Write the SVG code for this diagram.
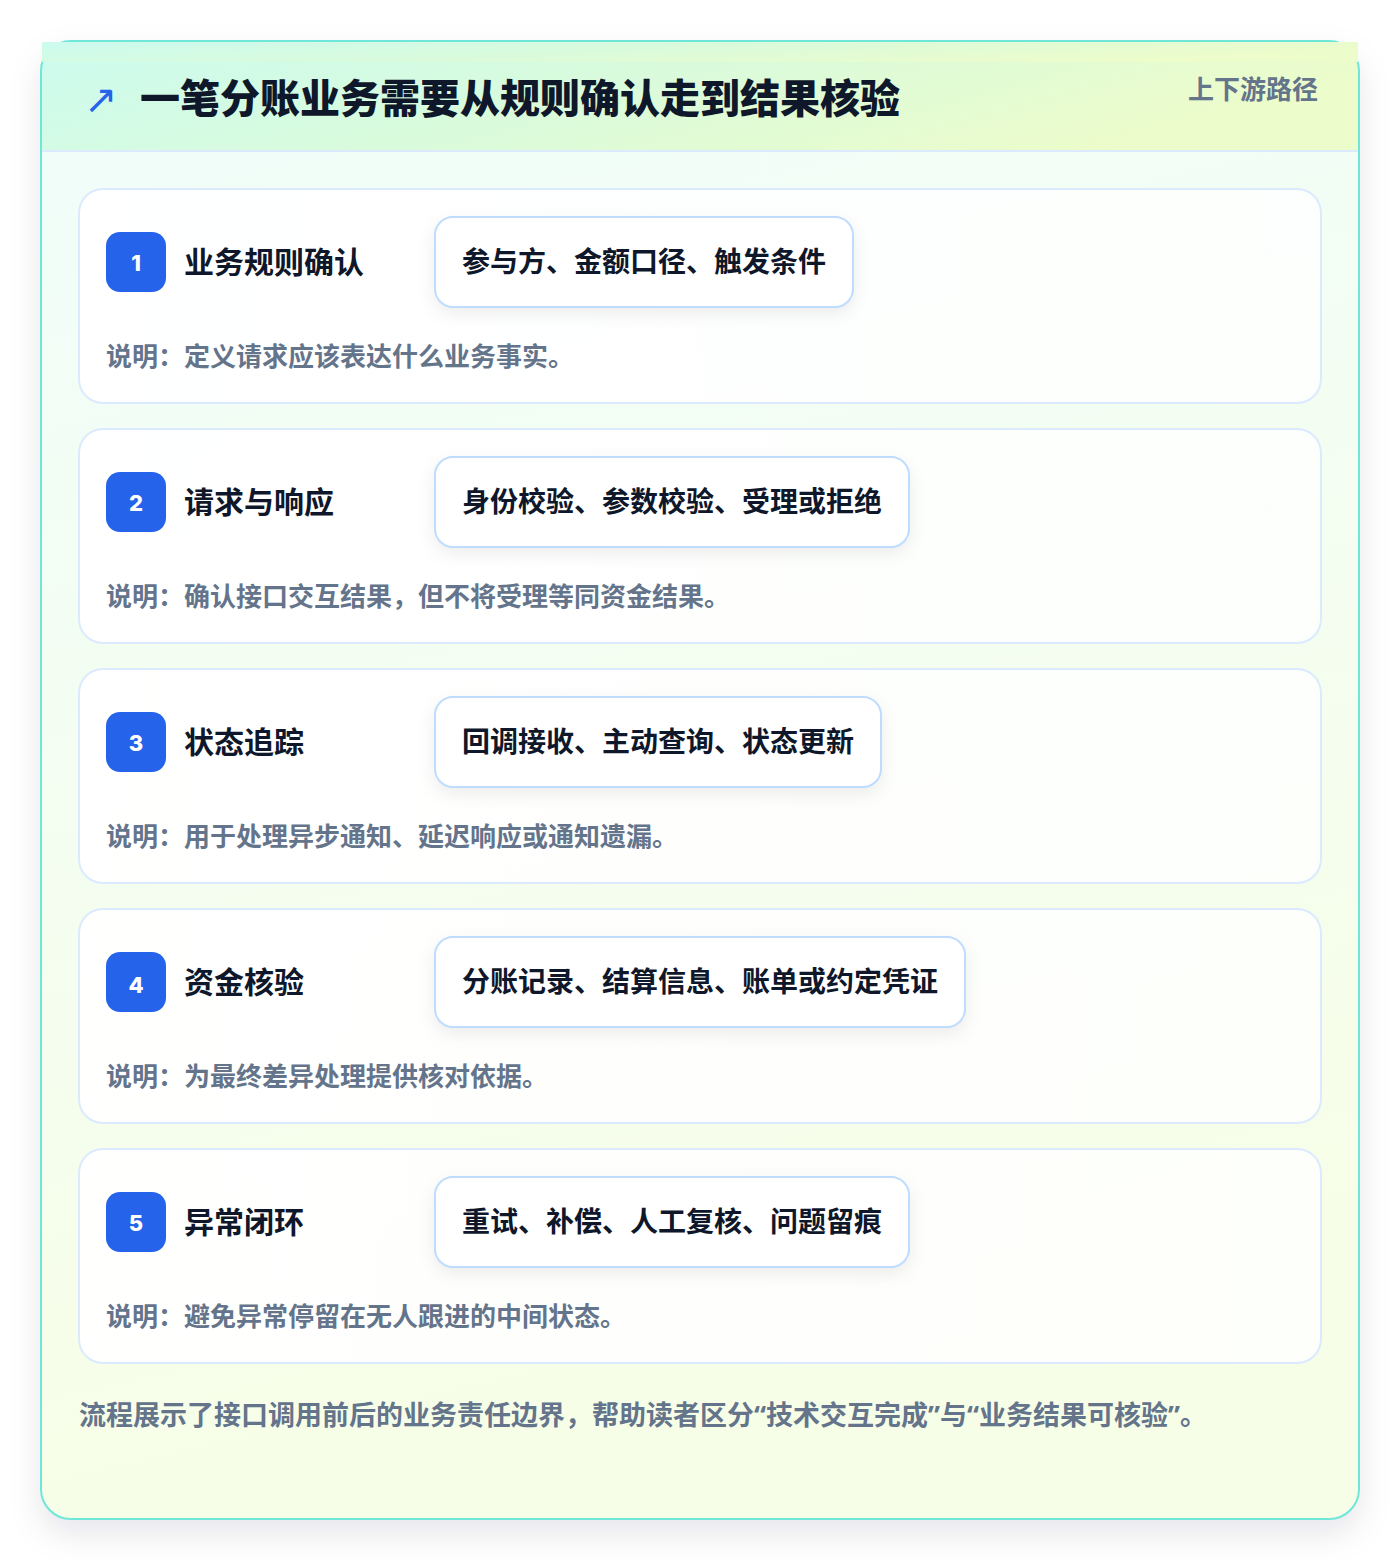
<svg xmlns="http://www.w3.org/2000/svg" width="1400" height="1560" viewBox="0 0 1400 1560">
<defs>
<linearGradient id="hdr" x1="0" y1="0" x2="1" y2="0.3">
<stop offset="0" stop-color="#ccfbef"/>
<stop offset="0.5" stop-color="#d9fbdc"/>
<stop offset="1" stop-color="#ecfccb"/>
</linearGradient>
<linearGradient id="body" x1="0" y1="0" x2="0.2" y2="1">
<stop offset="0" stop-color="#f0fdfa"/>
<stop offset="1" stop-color="#f7fee7"/>
</linearGradient>
<linearGradient id="cardfill" x1="0" y1="0" x2="1" y2="0">
<stop offset="0" stop-color="#ffffff" stop-opacity="0.97"/>
<stop offset="1" stop-color="#ffffff" stop-opacity="0.8"/>
</linearGradient>
<filter id="sh" x="-10%" y="-10%" width="120%" height="120%">
<feDropShadow dx="0" dy="14" stdDeviation="16" flood-color="#0f172a" flood-opacity="0.1"/>
</filter>
<filter id="psh" x="-20%" y="-30%" width="140%" height="170%">
<feDropShadow dx="0" dy="6" stdDeviation="8" flood-color="#0f172a" flood-opacity="0.07"/>
</filter>
</defs>
<style>
text{font-family:"Noto Sans CJK SC","Noto Sans",sans-serif;font-weight:700}
.title{font-size:40px;fill:#0f172a;font-weight:800}
.tag{font-size:26px;fill:#64748b}
.card{fill:url(#cardfill);stroke:#dbeafe;stroke-width:2}
.badge{fill:#2563eb}
.num{font-family:Inter,"Noto Sans",sans-serif;font-size:22px;fill:#ffffff;font-weight:800;text-anchor:middle}
.stitle{font-size:30px;fill:#0f172a}
.pill{fill:#ffffff;stroke:#bfdbfe;stroke-width:2}
.ptext{font-size:28px;fill:#0f172a}
.desc{font-size:26px;fill:#64748b}
.foot{font-size:27px;fill:#64748b}
.q{font-family:"Noto Sans",sans-serif}
.icon{font-family:"DejaVu Sans",sans-serif;font-size:40px;fill:#2563eb;font-weight:400}
</style>
<rect width="1400" height="1560" fill="#ffffff"/>
<g id="frame">
<rect x="41" y="41" width="1318" height="1478" rx="30" fill="url(#body)" filter="url(#sh)"/>
<rect x="42" y="42" width="1316" height="109" fill="url(#hdr)"/>
<line x1="42" y1="151" x2="1358" y2="151" stroke="#dbeafe" stroke-width="2"/>
<rect x="41" y="41" width="1318" height="1478" rx="30" fill="none" stroke="#6ee7d8" stroke-width="2"/>
<rect x="42" y="42" width="1316" height="20" fill="url(#hdr)"/>
</g>
<g id="header">
<text class="icon" x="84" y="113">↗</text>
<text class="title" x="140" y="113">一笔分账业务需要从规则确认走到结果核验</text>
<text class="tag" x="1318" y="99" text-anchor="end">上下游路径</text>
</g>
<g id="connectors"></g>
<g id="step1">
<rect class="card" x="79" y="189" width="1242" height="214" rx="24"/>
<rect class="badge" x="106" y="232" width="60" height="60" rx="14"/>
<text class="num" x="136" y="271">1</text>
<text class="stitle" x="184" y="273">业务规则确认</text>
<rect class="pill" x="435" y="217" width="418" height="90" rx="18" filter="url(#psh)"/>
<text class="ptext" x="462" y="272">参与方、金额口径、触发条件</text>
<text class="desc" x="106" y="366">说明：定义请求应该表达什么业务事实。</text>
</g>
<g id="step2">
<rect class="card" x="79" y="429" width="1242" height="214" rx="24"/>
<rect class="badge" x="106" y="472" width="60" height="60" rx="14"/>
<text class="num" x="136" y="511">2</text>
<text class="stitle" x="184" y="513">请求与响应</text>
<rect class="pill" x="435" y="457" width="474" height="90" rx="18" filter="url(#psh)"/>
<text class="ptext" x="462" y="512">身份校验、参数校验、受理或拒绝</text>
<text class="desc" x="106" y="606">说明：确认接口交互结果，但不将受理等同资金结果。</text>
</g>
<g id="step3">
<rect class="card" x="79" y="669" width="1242" height="214" rx="24"/>
<rect class="badge" x="106" y="712" width="60" height="60" rx="14"/>
<text class="num" x="136" y="751">3</text>
<text class="stitle" x="184" y="753">状态追踪</text>
<rect class="pill" x="435" y="697" width="446" height="90" rx="18" filter="url(#psh)"/>
<text class="ptext" x="462" y="752">回调接收、主动查询、状态更新</text>
<text class="desc" x="106" y="846">说明：用于处理异步通知、延迟响应或通知遗漏。</text>
</g>
<g id="step4">
<rect class="card" x="79" y="909" width="1242" height="214" rx="24"/>
<rect class="badge" x="106" y="952" width="60" height="60" rx="14"/>
<text class="num" x="136" y="993">4</text>
<text class="stitle" x="184" y="993">资金核验</text>
<rect class="pill" x="435" y="937" width="530" height="90" rx="18" filter="url(#psh)"/>
<text class="ptext" x="462" y="992">分账记录、结算信息、账单或约定凭证</text>
<text class="desc" x="106" y="1086">说明：为最终差异处理提供核对依据。</text>
</g>
<g id="step5">
<rect class="card" x="79" y="1149" width="1242" height="214" rx="24"/>
<rect class="badge" x="106" y="1192" width="60" height="60" rx="14"/>
<text class="num" x="136" y="1231">5</text>
<text class="stitle" x="184" y="1233">异常闭环</text>
<rect class="pill" x="435" y="1177" width="474" height="90" rx="18" filter="url(#psh)"/>
<text class="ptext" x="462" y="1232">重试、补偿、人工复核、问题留痕</text>
<text class="desc" x="106" y="1326">说明：避免异常停留在无人跟进的中间状态。</text>
</g>
<g id="footer">
<text class="foot" x="79" y="1425">流程展示了接口调用前后的业务责任边界，帮助读者区分<tspan class="q">“</tspan>技术交互完成<tspan class="q">”</tspan>与<tspan class="q">“</tspan>业务结果可核验<tspan class="q">”</tspan>。</text>
</g>
</svg>
